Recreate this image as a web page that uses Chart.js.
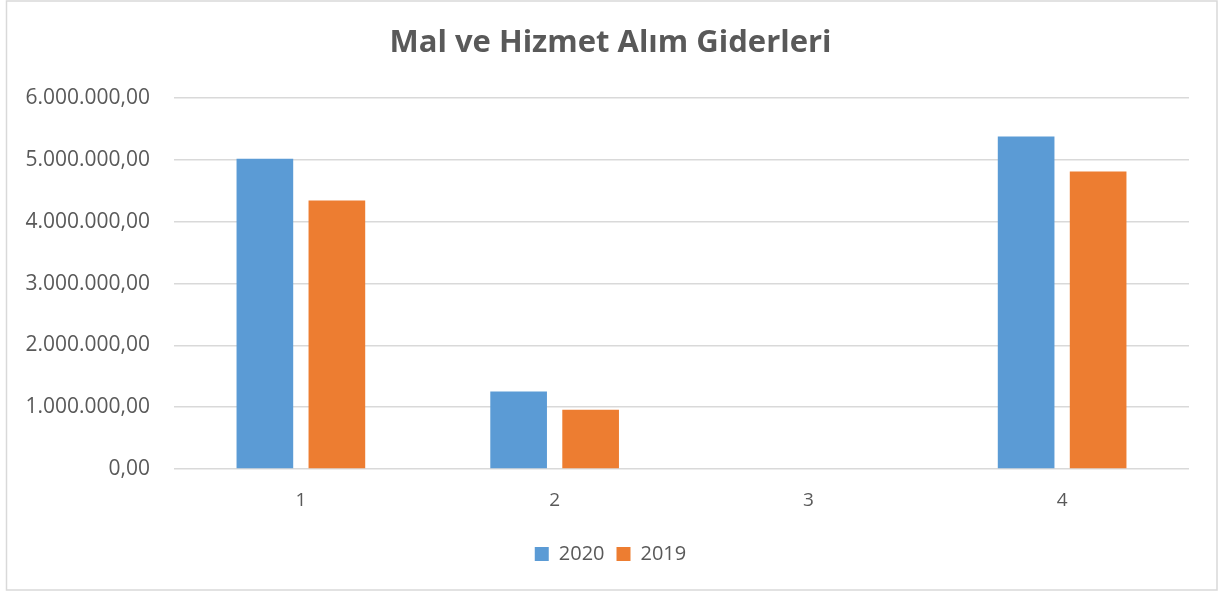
<!DOCTYPE html>
<html>
<head>
<meta charset="utf-8">
<script src="https://cdn.jsdelivr.net/npm/chart.js@4/dist/chart.umd.min.js"></script>
<style>
  html, body { margin: 0; padding: 0; background: #ffffff; }
  #wrap { position: absolute; left: 0; top: 0; width: 1221px; height: 594px; }
</style>
</head>
<body>
<div id="wrap"><canvas id="c" width="1221" height="594"></canvas></div>
<script>
const categories = ['1', '2', '3', '4'];
const values2020 = [5020000, 1255000, 0, 5380000];
const values2019 = [4345000, 957000, 0, 4815000];
const seriesNames = ['2020', '2019'];
const titleText = 'Mal ve Hizmet Alım Giderleri';

const fmt = v => v.toLocaleString('de-DE', { minimumFractionDigits: 2, maximumFractionDigits: 2 });

const borderPlugin = {
  id: 'outerBorder',
  beforeDraw(chart) {
    const ctx = chart.ctx;
    ctx.save();
    ctx.fillStyle = '#ffffff';
    ctx.fillRect(0, 0, chart.width, chart.height);
    ctx.strokeStyle = '#d9d9d9';
    ctx.lineWidth = 1.5;
    ctx.strokeRect(6.5, 1, 1210.5, 589);
    ctx.restore();
  }
};

new Chart(document.getElementById('c'), {
  type: 'bar',
  data: {
    labels: categories,
    datasets: [
      { label: seriesNames[0], data: values2020, backgroundColor: '#5B9BD5', barPercentage: 0.787, categoryPercentage: 0.5675 },
      { label: seriesNames[1], data: values2019, backgroundColor: '#ED7D31', barPercentage: 0.787, categoryPercentage: 0.5675 }
    ]
  },
  options: {
    responsive: false,
    animation: false,
    layout: { padding: { left: 0, right: 0, top: 0, bottom: 20 } },
    plugins: {
      title: {
        display: true,
        text: titleText,
        color: '#595959',
        font: { family: 'Open Sans', size: 31, weight: 'bold', lineHeight: 1.2 },
        padding: { top: 25, bottom: 36 }
      },
      legend: {
        position: 'bottom',
        labels: {
          color: '#595959',
          font: { family: 'Open Sans', size: 20 },
          boxWidth: 14,
          boxHeight: 14,
          padding: 12
        }
      },
      tooltip: { enabled: false }
    },
    scales: {
      x: {
        grid: { display: false, drawTicks: false },
        border: { display: false },
        ticks: { color: '#595959', font: { family: 'Open Sans', size: 19 }, padding: 20 },
        afterFit(scale) { scale.height = 63; }
      },
      y: {
        min: 0,
        max: 6000000,
        grid: { color: '#d9d9d9', lineWidth: 1.5, drawTicks: false },
        border: { display: false },
        ticks: {
          stepSize: 1000000,
          color: '#595959',
          font: { family: 'Open Sans', size: 21 },
          padding: 24,
          callback: v => fmt(v)
        },
        afterFit(scale) { scale.width = 174; }
      },
      yRightSpacer: {
        type: 'linear',
        position: 'right',
        display: true,
        grid: { display: false, drawTicks: false },
        border: { display: false },
        ticks: { display: false },
        afterFit(scale) { scale.width = 32; }
      }
    }
  },
  plugins: [borderPlugin]
});
</script>
</body>
</html>
